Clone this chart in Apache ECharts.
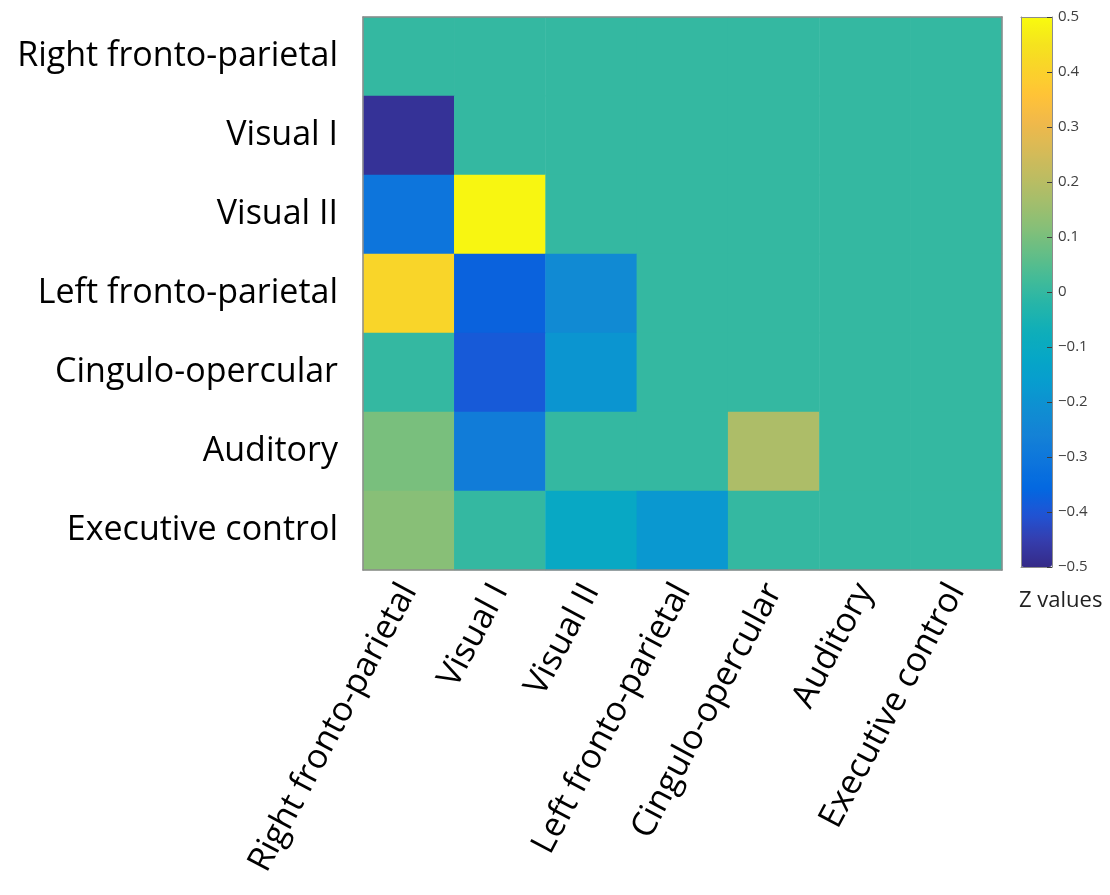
<!DOCTYPE html>
<html>
<head>
<meta charset="utf-8">
<script src="https://cdn.jsdelivr.net/npm/echarts@6/dist/echarts.min.js"></script>
<style>
  html, body { margin: 0; padding: 0; background: #fff; }
  #main { width: 1110px; height: 895px; }
</style>
</head>
<body>
<div id="main"></div>
<script>
// network names, same order on both axes
const networks = ['Right fronto-parietal', 'Visual I', 'Visual II', 'Left fronto-parietal',
                  'Cingulo-opercular', 'Auditory', 'Executive control'];

// z values, one row per y label (top to bottom), one column per x label
const zRows = [
  [0, 0, 0, 0, 0, 0, 0],
  [-0.48, 0, 0, 0, 0, 0, 0],
  [-0.31, 0.49, 0, 0, 0, 0, 0],
  [0.41, -0.37, -0.23, 0, 0, 0, 0],
  [0, -0.39, -0.19, 0, 0, 0, 0],
  [0.10, -0.28, 0, 0, 0.18, 0, 0],
  [0.12, 0, -0.11, -0.18, 0, 0, 0]
];

// parula colormap stops
const parula = ['#352a87', '#353dad', '#2053d4', '#0268e1', '#0d75dc', '#1481d6', '#108ed2',
                '#079ccf', '#06a7c6', '#0faeb9', '#25b5a9', '#42bb98', '#65be86', '#87bf77',
                '#a5be6b', '#c0bc60', '#d9ba56', '#f1b94a', '#ffc337', '#fad32a', '#f5e41d', '#f9fb0e'];

const cells = [];
zRows.forEach((row, yi) => {
  row.forEach((v, xi) => cells.push([xi, yi, v]));
});

const frame = '#8c8c8c';
const tickCol = '#3c3c3c';
const font = 'Open Sans';

var myChart = echarts.init(document.getElementById('main'), null, {renderer: 'canvas'});

myChart.setOption({
  animation: false,
  grid: [
    {left: 363, top: 17, width: 639, height: 553},
    {left: 1021, top: 17, width: 31, height: 550}
  ],
  xAxis: [
    {
      type: 'category', gridIndex: 0, data: networks, position: 'bottom',
      axisLine: {lineStyle: {color: frame, width: 1.5}},
      axisTick: {inside: true, alignWithLabel: true, length: 7, lineStyle: {color: tickCol}},
      axisLabel: {rotate: 62, margin: 16, fontSize: 34, fontFamily: font, color: '#000'},
      splitLine: {show: false}, z: 5
    },
    {
      type: 'category', gridIndex: 0, data: networks, position: 'top',
      axisLine: {lineStyle: {color: frame, width: 1.5}},
      axisTick: {inside: true, alignWithLabel: true, length: 7, lineStyle: {color: tickCol}},
      axisLabel: {show: false}, z: 5
    },
    {
      type: 'value', gridIndex: 1, min: 0, max: 1, position: 'bottom',
      axisLine: {show: true, onZero: false, lineStyle: {color: frame}},
      axisTick: {show: false}, axisLabel: {show: false}, splitLine: {show: false}, z: 10
    },
    {
      type: 'value', gridIndex: 1, min: 0, max: 1, position: 'top',
      axisLine: {show: true, onZero: false, lineStyle: {color: frame}},
      axisTick: {show: false}, axisLabel: {show: false}, splitLine: {show: false}, z: 10
    }
  ],
  yAxis: [
    {
      type: 'category', gridIndex: 0, data: networks, inverse: true, position: 'left',
      axisLine: {lineStyle: {color: frame, width: 1.5}},
      axisTick: {inside: true, alignWithLabel: true, length: 7, lineStyle: {color: tickCol}},
      axisLabel: {margin: 25, fontSize: 34, fontFamily: font, color: '#000'}, z: 5
    },
    {
      type: 'category', gridIndex: 0, data: networks, inverse: true, position: 'right',
      axisLine: {lineStyle: {color: frame, width: 1.5}},
      axisTick: {inside: true, alignWithLabel: true, length: 7, lineStyle: {color: tickCol}},
      axisLabel: {show: false}, z: 5
    },
    {
      type: 'value', gridIndex: 1, min: -0.5, max: 0.5, interval: 0.1, position: 'right',
      axisLine: {show: true, onZero: false, lineStyle: {color: frame}},
      axisTick: {inside: true, length: 5, lineStyle: {color: tickCol}},
      axisLabel: {
        margin: 6, fontSize: 15, fontFamily: 'Open Sans', color: '#404040',
        formatter: v => Math.abs(v) < 1e-9 ? '0' : v.toFixed(1).replace('-', '\u2212')
      },
      splitLine: {show: false}, z: 10
    },
    {
      type: 'value', gridIndex: 1, min: -0.5, max: 0.5, position: 'left',
      axisLine: {show: true, onZero: false, lineStyle: {color: frame}},
      axisTick: {show: false}, axisLabel: {show: false}, splitLine: {show: false}, z: 10
    }
  ],
  visualMap: {
    type: 'continuous', seriesIndex: 0, min: -0.5, max: 0.5,
    orient: 'vertical', left: 1021, top: 17, padding: 0,
    itemWidth: 31, itemHeight: 550, calculable: false, hoverLink: false,
    inRange: {color: parula}
  },
  graphic: [{
    type: 'text', left: 1019, top: 590,
    style: {text: 'Z values', fontSize: 22, fontFamily: 'Open Sans', fill: '#222'}
  }],
  series: [{
    type: 'heatmap', xAxisIndex: 0, yAxisIndex: 0,
    data: cells,
    itemStyle: {borderWidth: 0},
    emphasis: {disabled: true}
  }]
});
</script>
</body>
</html>
